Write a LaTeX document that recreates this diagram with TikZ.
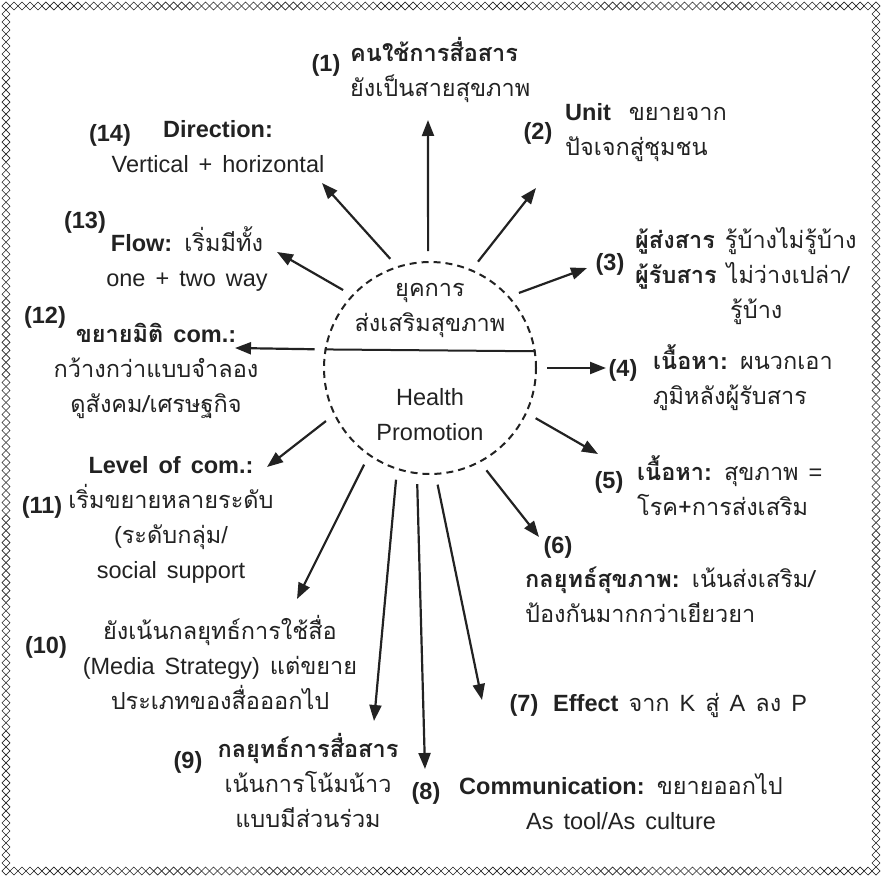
\documentclass[tikz,border=0pt]{standalone}
\usepackage{fontspec}
\setmainfont{Liberation Sans}
\newfontfamily\thaifont[Script=Thai]{Loma}
\usetikzlibrary{arrows.meta}
\definecolor{ink}{HTML}{222222}
\newcommand{\tha}[1]{{\thaifont #1}}
\newcommand{\widesp}{\spaceskip 10pt plus 2pt minus 2pt\relax}
\tikzset{
  txt/.style={font=\fontsize{23.5}{35}\selectfont,text=ink,inner sep=0pt,align=center,execute at begin node=\widesp},
  num/.style={txt,font=\fontsize{23.5}{35}\selectfont\bfseries},
  ar/.style={-{Triangle[length=16pt,width=12pt]},line width=2.2pt,draw=ink,shorten <=10pt},
  dia/.style={draw=ink,line width=0.6pt,fill=white},
}

\begin{document}
\begin{tikzpicture}[x=1pt,y=-1pt]
\useasboundingbox (0,0) rectangle (882,877);

% border of small diamonds
\foreach \i in {0,...,109} {
  \pgfmathsetmacro\bx{6+\i*7.982}
  \draw[dia] (\bx-4,6) -- (\bx,2) -- (\bx+4,6) -- (\bx,10) -- cycle;
  \draw[dia] (\bx-4,871) -- (\bx,867) -- (\bx+4,871) -- (\bx,875) -- cycle;
}
\foreach \i in {0,...,108} {
  \pgfmathsetmacro\by{6+\i*8.009}
  \draw[dia] (2,\by) -- (6,\by-4) -- (10,\by) -- (6,\by+4) -- cycle;
  \draw[dia] (872,\by) -- (876,\by-4) -- (880,\by) -- (876,\by+4) -- cycle;
}

% hub
\node[circle,draw=ink,dashed,dash pattern=on 7pt off 5pt,line width=2pt,minimum size=212pt,inner sep=0pt] (hub) at (430,368) {};
\draw[ink,line width=2pt] (hub.170.2) -- (hub.9.8);
\node[txt] (era) at (430,310) {\tha{ยุคการ}\\\tha{ส่งเสริมสุขภาพ}};
\node[txt] (hp) at (430,415) {Health\\Promotion};

% arrow tips
\coordinate (t1) at (428,120);
\coordinate (t2) at (536,188);
\coordinate (t3) at (587,268);
\coordinate (t4) at (606,368);
\coordinate (t5) at (598,454);
\coordinate (t6) at (539,537);
\coordinate (t7) at (482,700);
\coordinate (t8) at (425,769);
\coordinate (t9) at (374,721);
\coordinate (t10) at (297,599);
\coordinate (t11) at (267,467);
\coordinate (t12) at (235,348);
\coordinate (t13) at (277,252);
\coordinate (t14) at (322,183);

\draw[ar] (hub.91) -- (t1);
\draw[ar] (hub.67) -- (t2);
\draw[ar] (hub.42) -- (t3);
\draw[ar] (hub.0) -- (t4);
\draw[ar] (hub.-25) -- (t5);
\draw[ar] (hub.-62) -- (t6);
\draw[ar] (hub.-87) -- (t7);
\draw[ar] (hub.-97) -- (t8);
\draw[ar] (hub.-108) -- (t9);
\draw[ar] (hub.-125) -- (t10);
\draw[ar] (hub.-154) -- (t11);
\draw[ar] (hub.170.5) -- (t12);
\draw[ar] (hub.137) -- (t13);
\draw[ar] (hub.108) -- (t14);

% labels
\node[num] (n1) at (326,65) {(1)};
\node[txt,align=left,anchor=west] (g1) at (350,70) {\textbf{\tha{คนใช้การสื่อสาร}}\\\tha{ยังเป็นสายสุขภาพ}};

\node[num] (n2) at (538,133) {(2)};
\node[txt,align=left,anchor=west] (g2) at (565,133) {\textbf{Unit}\hspace{18pt}\tha{ขยายจาก}\\\tha{ปัจเจกสู่ชุมชน}};

\node[num] (n3) at (610,264) {(3)};
\node[txt,align=left,anchor=west] (g3) at (635,276) {\textbf{\tha{ผู้ส่งสาร}} \tha{รู้บ้างไม่รู้บ้าง}\\\textbf{\tha{ผู้รับสาร}} \tha{ไม่ว่างเปล่า/}\\\hspace*{95pt}\tha{รู้บ้าง}};

\node[num] (n4) at (623,370) {(4)};
\node[txt,align=left,anchor=west] (g4) at (653,378) {\textbf{\tha{เนื้อหา}:} \tha{ผนวกเอา}\\\tha{ภูมิหลังผู้รับสาร}};

\node[num] (n5) at (609,482) {(5)};
\node[txt,align=left,anchor=west] (g5) at (637,486) {\textbf{\tha{เนื้อหา}:} \tha{สุขภาพ} =\\\tha{โรค+การส่งเสริม}};

\node[num] (n6) at (558,547) {(6)};
\node[txt,align=left,anchor=west] (g6) at (525,595) {\textbf{\tha{กลยุทธ์สุขภาพ}:} \tha{เน้นส่งเสริม/}\\\tha{ป้องกันมากกว่าเยียวยา}};

\node[num] (n7) at (524,705) {(7)};
\node[txt,anchor=west] (g7) at (553,705) {\textbf{Effect} \tha{จาก} K \tha{สู่} A \tha{ลง} P};

\node[num] (n8) at (426,793) {(8)};
\node[txt] (g8) at (621,802) {\textbf{Communication:} \tha{ขยายออกไป}\\As tool/As culture};

\node[num] (n9) at (188,762) {(9)};
\node[txt] (g9) at (308,780) {\textbf{\tha{กลยุทธ์การสื่อสาร}}\\\tha{เน้นการโน้มน้าว}\\\tha{แบบมีส่วนร่วม}};

\node[num] (n10) at (46,647) {(10)};
\node[txt] (g10) at (220,662) {\tha{ยังเน้นกลยุทธ์การใช้สื่อ}\\(Media Strategy) \tha{แต่ขยาย}\\\tha{ประเภทของสื่อออกไป}};

\node[num] (n11) at (42,507) {(11)};
\node[txt] (g11) at (171,520) {\textbf{Level of com.:}\\\tha{เริ่มขยายหลายระดับ}\\(\tha{ระดับกลุ่ม}/\\social support};

\node[num] (n12) at (45,317) {(12)};
\node[txt] (g12) at (156,371) {\textbf{\tha{ขยายมิติ} com.:}\\\tha{กว้างกว่าแบบจำลอง}\\\tha{ดูสังคม/เศรษฐกิจ}};

\node[num] (n13) at (85,222) {(13)};
\node[txt] (g13) at (187,259) {\textbf{Flow:} \tha{เริ่มมีทั้ง}\\one + two way};

\node[num] (n14) at (110,135) {(14)};
\node[txt] (g14) at (218,147) {\textbf{Direction:}\\Vertical + horizontal};
\end{tikzpicture}
\end{document}
